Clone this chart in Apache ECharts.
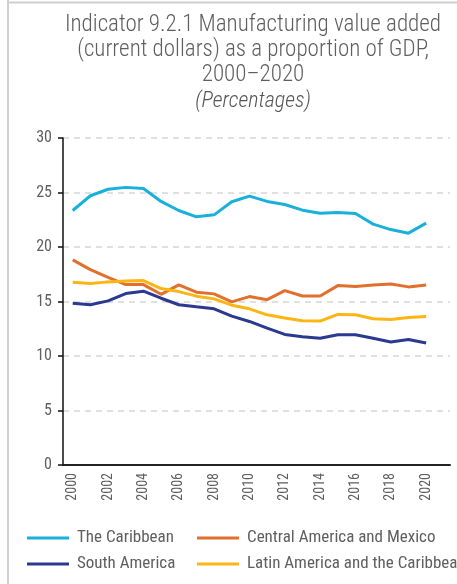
<!DOCTYPE html>
<html>
<head>
<meta charset="utf-8">
<script src="https://cdn.jsdelivr.net/npm/echarts@6/dist/echarts.min.js"></script>
<style>
  html, body { margin: 0; padding: 0; background: #fff; }
  #chart { width: 457px; height: 584px; }
</style>
</head>
<body>
<div id="chart"></div>
<script>
const years = [2000, 2001, 2002, 2003, 2004, 2005, 2006, 2007, 2008, 2009, 2010,
  2011, 2012, 2013, 2014, 2015, 2016, 2017, 2018, 2019, 2020];
const yearTicks = [2000, 2002, 2004, 2006, 2008, 2010, 2012, 2014, 2016, 2018, 2020];

const caribbean = [23.35, 24.7, 25.3, 25.47, 25.37, 24.18, 23.35, 22.77, 22.95, 24.15, 24.67,
  24.18, 23.9, 23.38, 23.1, 23.17, 23.08, 22.1, 21.6, 21.27, 22.19];
const centralAmerica = [18.82, 17.93, 17.22, 16.55, 16.55, 15.66, 16.52, 15.85, 15.7, 14.96, 15.45,
  15.17, 16.0, 15.5, 15.5, 16.46, 16.37, 16.52, 16.61, 16.34, 16.52];
const southAmerica = [14.85, 14.7, 15.06, 15.73, 15.95, 15.3, 14.7, 14.51, 14.33, 13.66, 13.17,
  12.56, 11.98, 11.77, 11.62, 11.95, 11.95, 11.62, 11.28, 11.52, 11.19];
const latinAmerica = [16.77, 16.65, 16.8, 16.89, 16.92, 16.19, 15.91, 15.49, 15.24, 14.66, 14.33,
  13.78, 13.48, 13.23, 13.2, 13.81, 13.78, 13.41, 13.35, 13.54, 13.63];

const font = "'Liberation Sans Narrow', 'Roboto Condensed', 'Roboto', sans-serif";
const textGray = '#5f5f5f';

const pairs = (vals) => years.map((y, i) => [y, vals[i]]);

const lineSeries = (name, vals, color) => ({
  name,
  type: 'line',
  data: pairs(vals),
  showSymbol: false,
  symbol: 'none',
  lineStyle: { color, width: 3 },
  itemStyle: { color },
  emphasis: { disabled: true },
});

const legendStyle = {
  orient: 'vertical',
  top: 528,
  padding: 0,
  itemWidth: 42,
  itemHeight: 3,
  itemGap: 6,
  icon: 'rect',
  textStyle: { fontFamily: font, fontSize: 17, color: textGray, lineHeight: 20, padding: [0, 0, 0, 3] },
};

const chart = echarts.init(document.getElementById('chart'));

chart.setOption({
  animation: false,
  backgroundColor: '#fff',
  title: {
    text: 'Indicator 9.2.1 Manufacturing value added\n(current dollars) as a proportion of GDP,\n2000\u20132020',
    subtext: '(Percentages)',
    left: 248,
    top: 8,
    textAlign: 'center',
    itemGap: 1,
    textStyle: {
      fontFamily: font, fontSize: 23, fontWeight: 300, color: textGray, lineHeight: 25,
    },
    subtextStyle: {
      fontFamily: font, fontSize: 22, fontWeight: 300, fontStyle: 'italic', color: '#555', lineHeight: 25,
    },
  },
  legend: [
    Object.assign({ data: ['The Caribbean', 'South America'], left: 27 }, legendStyle),
    Object.assign({ data: ['Central America and Mexico', 'Latin America and the Caribbean'], left: 197 }, legendStyle),
  ],
  grid: { left: 63, right: 7, top: 138, bottom: 119, containLabel: false },
  xAxis: {
    type: 'value',
    min: 1999.45,
    max: 2021.35,
    axisLine: { show: true, onZero: false, lineStyle: { color: '#222', width: 2 } },
    axisTick: { show: false },
    splitLine: { show: false },
    axisLabel: {
      customValues: yearTicks,
      rotate: 90,
      margin: 8,
      fontFamily: font,
      fontSize: 14,
      color: textGray,
      formatter: (v) => String(v),
    },
  },
  yAxis: {
    type: 'value',
    min: 0,
    max: 30,
    interval: 5,
    axisLine: { show: true, lineStyle: { color: '#111', width: 1.5 } },
    axisTick: { show: true, length: 5, lineStyle: { color: '#111', width: 1.5 } },
    splitLine: { show: true, lineStyle: { color: '#d6d6d6', width: 1.5, type: [6, 5] } },
    axisLabel: { margin: 11, fontFamily: font, fontSize: 16, color: textGray },
  },
  series: [
    lineSeries('The Caribbean', caribbean, '#1ab0dc'),
    lineSeries('Central America and Mexico', centralAmerica, '#e2702c'),
    lineSeries('South America', southAmerica, '#2b3990'),
    lineSeries('Latin America and the Caribbean', latinAmerica, '#fdb515'),
  ],
  graphic: [
    { type: 'line', shape: { x1: 8, y1: 0, x2: 8, y2: 584 }, style: { stroke: '#cfcfcf', lineWidth: 2 } },
    { type: 'line', shape: { x1: 8, y1: 2.5, x2: 457, y2: 2.5 }, style: { stroke: '#cfcfcf', lineWidth: 2 } },
  ],
});
</script>
</body>
</html>
